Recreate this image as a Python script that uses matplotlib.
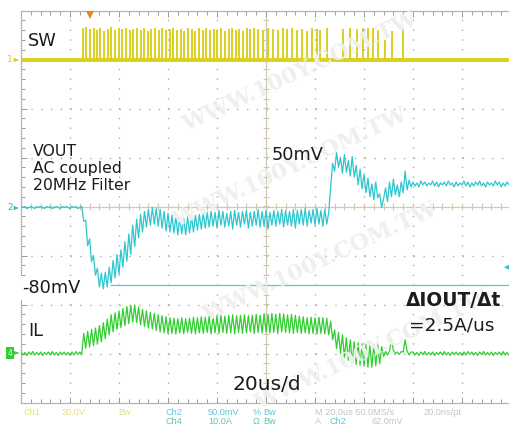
import numpy as np
import matplotlib.pyplot as plt
from matplotlib.ticker import MultipleLocator

# scope settings (from the status line)
t_div = 20.0        # us/div
ch1_vdiv = 20.0     # V/div  (SW)
ch2_vdiv = 50.0     # mV/div (VOUT)
ch4_adiv = 10.0     # A/div  (IL)
ch1_pos, ch2_pos, ch4_pos = 3.0, 0.0, -3.0   # trace offsets, div
dt = 0.8            # us between samples of the VOUT / IL records

# VOUT, AC coupled, mV
vout_mv = [
    0, -1, 0, -2, -1, 0, -1, -2, 0, -1,
    0, -1, -2, 0, -1, 0, -2, -1, 0, -1,
    -2, 0, -1, 0, -1, -2, 0, -1, 0, -2,
    -1,
    0, -15, -14, -40, -33, -56, -50, -70, -63, -82,
    -68, -84, -67, -82, -62, -78, -55, -73, -49, -69,
    -44, -62, -36, -56, -28, -49, -19, -41, -13, -32,
    -8, -26, -5, -21, -3, -19, -1, -18, -2, -20,
    -3, -22, -5, -25, -7, -26, -9, -27, -10, -29,
    -11, -28, -12, -29, -11, -27, -10, -26, -9, -24,
    -8, -23, -7, -22, -6, -21,
    -5, -20, -6, -22, -4, -19, -5, -21, -7, -20,
    -5, -23, -4, -19, -6, -21, -5, -18, -4, -22,
    -6, -20, -5, -19, -3, -21, -5, -20, -4, -23,
    -6, -19, -4, -20, -5, -18, -3, -21, -4, -19,
    -5, -20, -3, -22, -4, -18, -3, -19, -2, -20,
    -4, -17, -3, -19, -2, -18, -4, -20, -3,
    -18, -6, 20, 44, 36, 55, 40, 50, 34, 53,
    35, 47, 31, 51, 30, 42, 22, 38, 18, 33,
    14, 29, 10, 23, 7, 25, 9, 13, -1, 8,
    19, 5, 25, 10, 28, 12, 22, 10, 25, 14,
    36, 17, 27, 20,
    25, 21, 24, 20, 26, 22, 25, 21, 24, 22,
    26, 21, 25, 20, 24, 22, 25, 21, 26, 22,
    24, 20, 25, 21, 24, 22, 26, 21, 25, 20,
    24, 21, 25, 22, 26, 21, 24, 20, 25, 22,
    24, 21, 26, 22, 25, 20, 24, 21, 25, 22,
    24,
]

# inductor current, A
il_a = [
    0.3, -0.3, 0.2, -0.4, 0.3, -0.2, 0.4, -0.3, 0.2, -0.3,
    0.3, -0.4, 0.2, -0.2, 0.3, -0.3, 0.4, -0.3, 0.2, -0.4,
    0.3, -0.2, 0.3, -0.3, 0.2, -0.4, 0.3, -0.3, 0.4, -0.2,
    0.3,
    -0.2, 4.1, 1.1, 4.5, 1.3, 4.9, 1.6, 5.2, 1.9, 5.7,
    2.4, 6.3, 3.0, 7.0, 3.8, 7.9, 4.4, 8.3, 4.9, 8.7,
    5.3, 9.2, 5.7, 9.6, 6.1, 9.8, 6.4, 9.9, 6.3, 9.5,
    5.8, 9.0, 5.5, 8.7, 5.2, 8.4, 5.0, 8.2, 4.7, 7.9,
    4.4, 7.7, 4.2, 7.5, 4.1, 7.3,
    4.1, 7.2, 4.0, 7.1, 4.2, 7.3, 4.0, 7.1, 4.3, 7.2,
    4.1, 7.4, 4.0, 7.3, 4.2, 7.5, 4.1, 7.4, 4.3, 7.6,
    4.0, 7.5, 4.2, 7.7, 4.1, 7.8, 4.3, 7.6, 4.1, 7.8,
    4.2, 7.9, 4.0, 7.7, 4.3, 7.8, 4.1, 7.9, 4.2, 7.7,
    4.4, 7.8, 4.1, 8.0, 4.3, 7.8, 4.2, 8.1, 4.4, 7.9,
    4.2, 8.2, 4.3, 8.0, 4.1, 8.2, 4.4, 8.1, 4.3, 7.9,
    4.2, 8.0, 4.1, 7.8, 4.3, 7.6, 4.1, 7.5, 4.2, 7.3,
    4.0, 7.4, 4.1, 7.3, 4.0, 7.4, 4.1, 7.3, 4.0, 7.2,
    3.8,
    6.6, 2.8, 4.8, 1.0, 4.3, 0.0, 3.8, -0.8, 3.2, -1.4,
    2.8, -1.9, 2.4, -2.2, 2.2, -2.4, 2.0, -2.6, 1.8, -2.8,
    1.7, -2.8, 1.9, -2.5, 2.0, -2.1, 1.4, -0.6, 0.4, -0.3,
    0.5, 2.9, 0.6, 0.0, 0.3, -0.2, 0.4, 0.3, 2.8, 0.5,
    -0.3, 0.3,
    0.3, -0.3, 0.2, -0.4, 0.3, -0.2, 0.4, -0.3, 0.2, -0.3,
    0.3, -0.4, 0.2, -0.2, 0.3, -0.3, 0.4, -0.3, 0.2, -0.4,
    0.3, -0.2, 0.3, -0.3, 0.2, -0.4, 0.3, -0.3, 0.4, -0.2,
    0.3, -0.3, 0.2, -0.4, 0.3, -0.2, 0.4, -0.3, 0.2, -0.3,
    0.3, -0.4, 0.2, -0.2, 0.3, -0.3, 0.4, -0.3, 0.2, -0.4,
    0.3,
]

# switch node pulses: time (us) and peak (V)
sw_pulse_us = [
    25.3, 26.7, 28.2, 29.6, 31.0, 32.4, 33.9, 35.5, 36.9, 38.4,
    39.8, 41.2, 42.8, 44.3, 45.7, 47.3, 48.8, 50.2, 51.8, 53.2,
    54.7, 56.3, 57.7, 59.2, 60.8, 62.2, 63.6, 65.3, 66.7, 68.1,
    69.8, 71.2, 72.6, 74.3, 75.7, 77.1, 78.7, 80.2, 81.6, 83.2,
    84.7, 86.1, 87.7, 89.1, 90.6, 92.2, 93.6, 95.1, 96.7, 98.7,
    100.8, 102.8, 104.9, 106.9, 108.5, 110.6, 112.6, 114.6, 116.7, 118.7,
    120.8, 122.0, 124.8,
    131.4, 134.2, 137.1, 139.5, 141.6, 143.6, 145.7, 148.5, 151.4, 155.9,
]
sw_pulse_v = [
    12.8, 13.2, 12.5, 13.0, 12.2, 12.9, 11.8, 12.6, 13.1, 12.0,
    12.7, 12.3, 13.0, 11.9, 12.6, 12.9, 12.1, 12.8, 11.7, 12.5,
    13.0, 12.2, 12.7, 11.9, 12.4, 12.9, 12.0, 12.6, 11.8, 12.8,
    12.3, 11.6, 12.7, 12.1, 12.9, 11.9, 12.5, 12.2, 12.8, 11.7,
    12.4, 12.9, 12.0, 12.6, 11.8, 12.7, 12.3, 12.9, 12.5, 12.0,
    12.8, 12.6, 11.9, 12.7, 12.4, 12.9, 12.2, 12.6, 11.8, 12.8,
    12.5, 12.1, 12.7,
    12.4, 12.9, 12.6, 12.8, 12.7, 12.9, 11.9, 8.0, 11.6, 13.0,
]

cursor_mv = -80
cursor_start_us = 36.3
trig_level_mv = -62
trig_pos_us = 28.2

assert len(vout_mv) == 251 and len(il_a) == 251
assert len(sw_pulse_us) == len(sw_pulse_v)

c_sw = '#dbd01c'
c_vout = '#2cc6cf'
c_il = '#2fcf2f'
c_grid = '#ababab'
c_axis = '#d0c8ae'

W, H = 509, 426
fig = plt.figure(figsize=(W / 100, H / 100), dpi=100)
fig.patch.set_facecolor('white')

# graticule in pixel coords
gx0, gx1, gy0, gy1 = 21, 511, 10.5, 402.5
ax = fig.add_axes([gx0 / W, 1 - gy1 / H, (gx1 - gx0) / W, (gy1 - gy0) / H])
ax.set_xlim(0, 10 * t_div)
ax.set_ylim(-4, 4)
ax.set_facecolor('none')

for s in ['left', 'top', 'bottom']:
    ax.spines[s].set_color('#b4b4b4')
    ax.spines[s].set_linewidth(0.9)
ax.spines['right'].set_visible(False)
ax.xaxis.set_major_locator(MultipleLocator(t_div))
ax.xaxis.set_minor_locator(MultipleLocator(t_div / 5))
ax.yaxis.set_major_locator(MultipleLocator(1))
ax.yaxis.set_minor_locator(MultipleLocator(0.2))
ax.tick_params(which='both', direction='in', color='#9a9a9a', width=0.7,
               labelbottom=False, labelleft=False, top=True, bottom=True,
               left=True, right=False)
ax.tick_params(which='major', length=4)
ax.tick_params(which='minor', length=3)

# dotted major grid
for k in range(1, 10):
    if k == 5:
        continue
    ax.plot([k * t_div, k * t_div], [-4, 4], color=c_grid, lw=1.0,
            linestyle=(0, (1, 6.06)), zorder=1)
for k in range(-3, 4):
    if k == 0:
        continue
    ax.plot([0, 10 * t_div], [k, k], color=c_grid, lw=1.0,
            linestyle=(0, (1, 6.06)), zorder=1)

# centre cross with minor ticks
ax.axhline(0, color=c_axis, lw=0.9, zorder=1)
ax.axvline(5 * t_div, color=c_axis, lw=0.9, zorder=1)
ax.vlines(np.arange(0, 10 * t_div + 0.1, t_div / 5), -0.07, 0.07, color=c_axis, lw=0.8, zorder=1)
ax.hlines(np.arange(-4, 4.01, 0.2), 5 * t_div - 1.4, 5 * t_div + 1.4, color=c_axis, lw=0.8, zorder=1)

# faint watermark
for cx, cy in [(300, 72), (290, 168), (320, 262), (372, 350)]:
    fig.text(cx / W, 1 - cy / H, 'WWW.100Y.COM.TW', fontsize=16, family='DejaVu Serif',
             fontweight='bold', color='#efefef', rotation=25, ha='center', va='center', zorder=0)

# traces
t = np.arange(len(vout_mv)) * dt
ax.plot(t, ch2_pos + np.array(vout_mv) / ch2_vdiv, color=c_vout, lw=0.9, zorder=5)
ax.plot(t, ch4_pos + np.array(il_a) / ch4_adiv, color=c_il, lw=0.9, zorder=5)
ax.plot([0, 10 * t_div], [ch1_pos, ch1_pos], color=c_sw, lw=2.8, zorder=5,
        solid_capstyle='butt')
ax.vlines(sw_pulse_us, ch1_pos, ch1_pos + np.array(sw_pulse_v) / ch1_vdiv,
          color=c_sw, lw=1.4, zorder=5)

# cursor and markers
ax.hlines(cursor_mv / ch2_vdiv, cursor_start_us, 10 * t_div, color='#5cc6d4', lw=0.9, zorder=4)
ax.annotate('', xy=(196.0, trig_level_mv / ch2_vdiv), xytext=(199.8, trig_level_mv / ch2_vdiv),
            arrowprops=dict(arrowstyle='-|>', color=c_vout, lw=0.8, mutation_scale=6))
ax.plot(trig_pos_us, 3.9, marker='v', color='#e8842a', ms=6, mew=0, clip_on=False, zorder=6)

# channel markers on the left
for label, y, col in [('1', 60, '#d8cc10'), ('2', 208, '#2cb8c4')]:
    fig.text(10 / W, 1 - y / H, label, fontsize=6.5, color=col, ha='center', va='center')
    ax.annotate('', xy=(21, H - y), xytext=(14, H - y), xycoords='figure pixels',
                arrowprops=dict(arrowstyle='-|>', color=col, lw=0.8, mutation_scale=5))
fig.text(10 / W, 1 - 353 / H, '4', fontsize=5.5, color='#d8f8d8', ha='center', va='center',
         bbox=dict(boxstyle='square,pad=0.25', fc=c_il, ec='none'))
ax.annotate('', xy=(21, H - 353), xytext=(15, H - 353), xycoords='figure pixels',
            arrowprops=dict(arrowstyle='-|>', color=c_il, lw=0.8, mutation_scale=5))

# annotations
tc = '#1c1c1c'
fig.text(28 / W, 1 - 41 / H, 'SW', fontsize=12.8, color=tc, va='center')
fig.text(33 / W, 1 - 144 / H, 'VOUT\nAC coupled\n20MHz Filter', fontsize=11.3, color=tc,
         va='top', linespacing=1.18)
fig.text(22 / W, 1 - 288 / H, '-80mV', fontsize=12.8, color=tc, va='center',
         bbox=dict(boxstyle='square,pad=0.15', fc='white', ec='none'))
fig.text(272 / W, 1 - 155 / H, '50mV', fontsize=12.8, color=tc, va='center')
fig.text(28 / W, 1 - 331 / H, 'IL', fontsize=12.8, color=tc, va='center')
fig.text(406 / W, 1 - 301 / H, 'ΔIOUT/Δt', fontsize=13.4, fontweight='bold', color=tc, va='center')
fig.text(409 / W, 1 - 325 / H, '=2.5A/us', fontsize=13.3, color=tc, va='center')
fig.text(232 / W, 1 - 384 / H, '20us/d', fontsize=14.5, color=tc, va='center')

# status line
c1, c2, c4, cg = '#e6de86', '#62c6d8', '#5ec8b2', '#c4c4c4'
row1 = [(23, 'Ch1', c1), (61, '20.0V', c1), (118, 'Bw', c1), (166, 'Ch2', c2),
        (208, '50.0mV', c2), (253, '%', c2), (263, 'Bw', c2),
        (315, 'M 20.0us 50.0MS/s', cg), (423, '20.0ns/pt', cg)]
row2 = [(166, 'Ch4', c4), (208, '10.0A', c4), (253, 'Ω', c4), (263, 'Bw', c4),
        (315, 'A', cg), (330, 'Ch2', c2), (372, '62.0mV', cg)]
for y, row in [(412.5, row1), (421, row2)]:
    for x, s, col in row:
        fig.text(x / W, 1 - y / H, s, fontsize=6.6, family='Liberation Sans', color=col, va='center')

fig.savefig('out.png', dpi=100)
